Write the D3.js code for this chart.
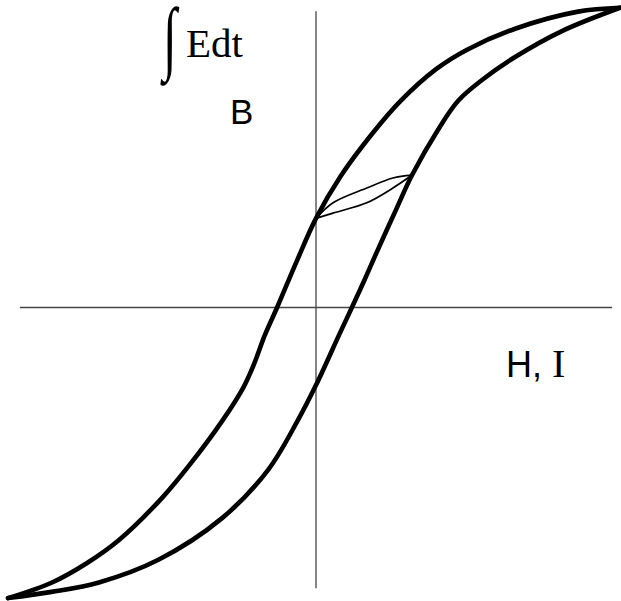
<!DOCTYPE html>
<html>
<head>
<meta charset="utf-8">
<script src="https://cdn.jsdelivr.net/npm/d3@7"></script>
<style>
  html, body { margin: 0; padding: 0; background: #fff; }
  svg { display: block; }
  .axis-line { stroke: #444; stroke-width: 1.3; }
  .branch { fill: none; stroke: #000; stroke-width: 4.6; stroke-linecap: round; stroke-linejoin: round; }
  .minor { fill: none; stroke: #000; stroke-width: 1.7; }
  .lbl-sans { font-family: "Liberation Sans", Arial, sans-serif; fill: #000; }
  .lbl-serif { font-family: "Liberation Serif", "Times New Roman", serif; fill: #000; }
</style>
</head>
<body>
<svg id="chart" width="621" height="601"></svg>
<script>
// Hysteresis loop: B (∫E dt) against H (I), in normalised units.

// descending branch, from positive saturation to negative saturation
const descending = [
  [1.0, 1.016], [0.862, 1.003], [0.655, 0.945], [0.497, 0.874], [0.395, 0.808],
  [0.276, 0.698], [0.184, 0.588], [0.081, 0.445], [0.0, 0.302], [-0.0625, 0.159],
  [-0.128, 0.0], [-0.168, -0.093], [-0.204, -0.192], [-0.240, -0.273], [-0.309, -0.385],
  [-0.414, -0.531], [-0.507, -0.646], [-0.648, -0.788], [-0.753, -0.866], [-0.870, -0.933],
  [-1.013, -0.985]
];

// ascending branch, from negative saturation back to positive saturation
const ascending = [
  [-1.013, -0.985], [-0.870, -0.964], [-0.714, -0.932], [-0.520, -0.856], [-0.309, -0.714],
  [-0.158, -0.551], [-0.059, -0.381], [0.0, -0.263], [0.079, -0.086], [0.118, 0.0],
  [0.158, 0.090], [0.197, 0.181], [0.263, 0.331], [0.316, 0.449], [0.401, 0.602],
  [0.467, 0.700], [0.546, 0.771], [0.655, 0.849], [0.809, 0.937], [1.0, 1.016]
];

// small minor loop between remanence and the ascending branch
const minorUpper = [[0.0, 0.302], [0.056, 0.355], [0.167, 0.405], [0.253, 0.439], [0.316, 0.449]];
const minorLower = [[0.0, 0.302], [0.056, 0.320], [0.167, 0.355], [0.253, 0.405], [0.316, 0.449]];

const hAxisExtent = [-0.974, 0.974];
const bAxisExtent = [-0.952, 1.004];

const x = d3.scaleLinear().domain([-1, 1]).range([12, 620]);
const y = d3.scaleLinear().domain([-1, 1]).range([602.5, 12.5]);

const svg = d3.select("#chart");

// axes: plain cross through the origin, no ticks
svg.append("line").attr("class", "axis-line")
  .attr("x1", x(hAxisExtent[0])).attr("x2", x(hAxisExtent[1]))
  .attr("y1", y(0)).attr("y2", y(0));
svg.append("line").attr("class", "axis-line")
  .attr("x1", x(0)).attr("x2", x(0))
  .attr("y1", y(bAxisExtent[0])).attr("y2", y(bAxisExtent[1]));

const line = d3.line()
  .x(d => x(d[0]))
  .y(d => y(d[1]))
  .curve(d3.curveCatmullRom.alpha(0.5));

svg.append("path").attr("class", "branch").attr("d", line(descending));
svg.append("path").attr("class", "branch").attr("d", line(ascending));
svg.append("path").attr("class", "minor").attr("d", line(minorUpper));
svg.append("path").attr("class", "minor").attr("d", line(minorLower));

// labels
svg.append("text").attr("class", "lbl-serif")
  .attr("transform", "translate(163,64) scale(0.62,1)")
  .style("font-size", "81px")
  .text("∫");
svg.append("text").attr("class", "lbl-serif")
  .attr("x", 186).attr("y", 57)
  .style("font-size", "41px")
  .text("Edt");

svg.append("text").attr("class", "lbl-sans")
  .attr("x", 230).attr("y", 124)
  .style("font-size", "35px")
  .text("B");

const hi = svg.append("text")
  .attr("x", 506).attr("y", 377)
  .style("font-size", "36px");
hi.append("tspan").attr("class", "lbl-sans").text("H, ");
hi.append("tspan").attr("class", "lbl-serif").style("font-size", "40px").text("I");
</script>
</body>
</html>
